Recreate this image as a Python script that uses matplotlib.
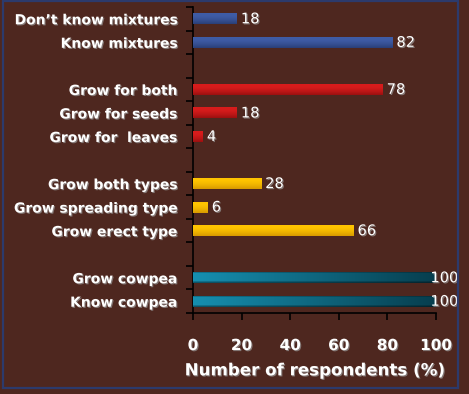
import numpy as np
import matplotlib
matplotlib.use("Agg")
import matplotlib.pyplot as plt
import matplotlib.patheffects as pe
from matplotlib.patches import Rectangle
from matplotlib.colors import to_rgba

categories = ["Don’t know mixtures", "Know mixtures",
              "Grow for both", "Grow for seeds", "Grow for  leaves",
              "Grow both types", "Grow spreading type", "Grow erect type",
              "Grow cowpea", "Know cowpea"]
values = [18, 82, 78, 18, 4, 28, 6, 66, 100, 100]
groups = ["mix", "mix", "use", "use", "use", "type", "type", "type", "cow", "cow"]
xticks = [0, 20, 40, 60, 80, 100]
xlabel = "Number of respondents (%)"

BG = "#4e271f"
# (top colour, bottom colour, mode)
styles = {
    "mix": ("#3f5ca6", "#2a3f78", "v"),
    "use": ("#d81c1c", "#9c1010", "v"),
    "type": ("#ffc400", "#d89a00", "v"),
    "cow": ("#168fb0", "#073e4e", "h"),
}

# slot positions with gaps between groups
positions = []
pos = 0
prev = None
for g in groups:
    if prev is not None and g != prev:
        pos += 1
    positions.append(pos)
    pos += 1
    prev = g
nslots = pos

fig = plt.figure(figsize=(4.69, 3.94), dpi=100, facecolor=BG)
ax = fig.add_axes([0.4115, 0.2056, 0.5181, 0.7766])
ax.set_facecolor(BG)

h = 0.47
shadow = [pe.withSimplePatchShadow(offset=(0.8, -0.8), shadow_rgbFace="#9a9a9a", alpha=0.7)]
for y, v, g in zip(positions, values, groups):
    c1, c2, mode = styles[g]
    bar = ax.barh(y, v, height=h, color=c1, edgecolor="none", zorder=2)[0]
    a = np.array(to_rgba(c1)); b = np.array(to_rgba(c2))
    if mode == "v":
        t = np.linspace(0, 1, 32)[:, None]
        t = np.clip(t * 1.3 - 0.3, 0, 1) ** 1.5
        img = (a[None, None, :] * (1 - t[..., None]) + b[None, None, :] * t[..., None])
        img = np.repeat(img, 2, axis=1)
    else:
        t = np.linspace(0, 1, 128)[None, :]
        img = (a[None, None, :] * (1 - t[..., None]) + b[None, None, :] * t[..., None])
        img = np.repeat(img, 8, axis=0)
        img[0, :, :3] *= 0.6
        img[-1, :, :3] *= 0.6
    im = ax.imshow(img, extent=(0, v, y + h / 2, y - h / 2), origin="upper",
                   aspect="auto", zorder=3, interpolation="bilinear")
    im.set_clip_path(bar)
    off = 3 if v < 95 else -4
    ax.annotate(str(v), xy=(v, y), xytext=(off, 0), textcoords="offset points",
                ha="left", va="center", color="white", fontsize=10.5,
                zorder=5, path_effects=shadow, annotation_clip=False)

ax.set_xlim(0, 100)
ax.set_ylim(nslots - 0.5, -0.5)

ax.set_yticks(positions)
ax.set_yticklabels(categories, fontsize=10, fontweight="bold", color="white")
ax.set_yticks(np.arange(-0.5, nslots, 1), minor=True)
ax.tick_params(axis="y", which="major", length=0, pad=11)
ax.tick_params(axis="y", which="minor", length=5, width=1.2, color="black", direction="out")
for lab in ax.get_yticklabels():
    lab.set_path_effects(shadow)

ax.set_xticks(xticks)
ax.set_xticklabels([str(x) for x in xticks], fontsize=11, fontweight="bold", color="white")
ax.tick_params(axis="x", which="major", length=5, width=1.2, color="black", direction="out", pad=13)
for lab in ax.get_xticklabels():
    lab.set_path_effects(shadow)

ax.set_xlabel(xlabel, fontsize=12, fontweight="bold", color="white", labelpad=6,
              path_effects=shadow)

for s in ["top", "right"]:
    ax.spines[s].set_visible(False)
for s in ["left", "bottom"]:
    ax.spines[s].set_color("black")
    ax.spines[s].set_linewidth(1.2)

# figure border
fig.patches.append(Rectangle((3 / 469, 6 / 394), 455 / 469, 387 / 394,
                             transform=fig.transFigure, fill=False,
                             edgecolor="#2c3a6c", linewidth=1.6))

fig.savefig("out.png", dpi=100, facecolor=BG)
